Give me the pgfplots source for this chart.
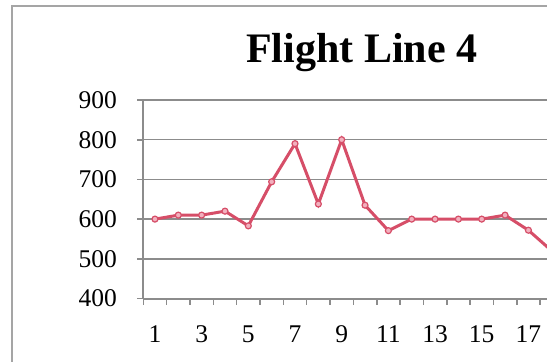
\documentclass[border=0pt]{standalone}
\usepackage{fontspec}
\setmainfont{Liberation Serif}
\usepackage{pgfplots}
\pgfplotsset{compat=1.18}
\definecolor{linered}{RGB}{214,78,104}
\definecolor{markfill}{RGB}{242,176,190}
\definecolor{gridgray}{RGB}{140,140,140}
\definecolor{framegray}{RGB}{165,165,165}
\begin{document}
\begin{tikzpicture}
\useasboundingbox (0,0) rectangle (273.5pt,180.5pt);
\clip (0,0) rectangle (273.5pt,180.5pt);
\draw[framegray, line width=1pt] (6.1pt,-10pt) rectangle (300pt,177.35pt);
\begin{axis}[
  at={(71.65pt,31.25pt)}, anchor=south west,
  scale only axis, width=210.06pt, height=99.25pt,
  xmin=0.5, xmax=18.5, ymin=400, ymax=900,
  clip=false,
  axis lines=left, axis line style={gridgray, line width=1pt, -},
  ytick={400,500,...,900},
  xtick={0.5,1.5,...,18.5},
  xticklabels={},
  extra x ticks={1,3,5,7,9,11,13,15,17},
  extra x tick labels={1,3,5,7,9,11,13,15,17},
  extra x tick style={xtick style={draw=none}, grid=none},
  tick align=outside,
  major tick length=3pt,
  tick style={gridgray, line width=0.8pt},
  ymajorgrids, major grid style={gridgray, line width=0.75pt},
  tick label style={font=\fontsize{12.75}{14}\selectfont, inner sep=0pt},
  /pgf/number format/assume math mode=true,
  xticklabel style={anchor=north, yshift=-10.3pt},
  yticklabel style={anchor=east, xshift=-10pt},
]
\addplot[linered, line width=1.5pt, mark=*, mark size=1.5pt,
  mark options={fill=markfill, draw=linered, line width=0.6pt}]
  coordinates {
  (1,600) (2,610) (3,610) (4,620) (5,583) (6,694) (7,790) (8,638) (9,800)
  (10,635) (11,571) (12,600) (13,600) (14,600) (15,600) (16,610) (17,572) (18,520)
  };
\end{axis}
\node[anchor=base, font=\fontsize{21}{25}\selectfont\bfseries] at (180.85pt,149.15pt) {Flight Line 4};
\end{tikzpicture}
\end{document}
